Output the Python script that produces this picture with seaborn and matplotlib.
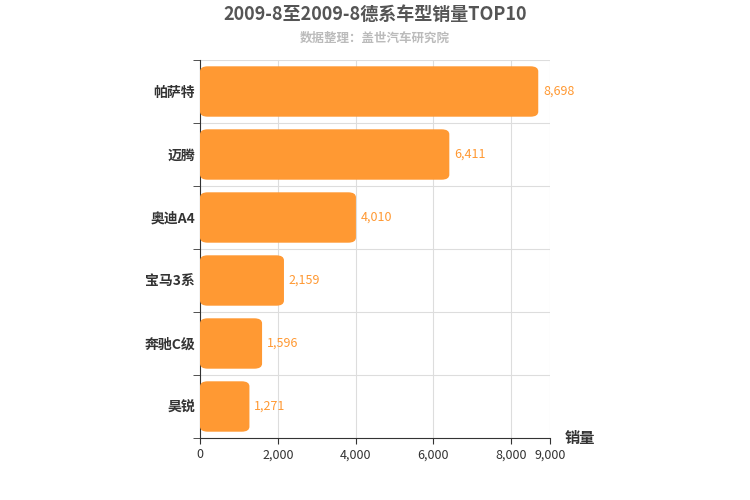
import matplotlib
matplotlib.use("Agg")
import matplotlib.pyplot as plt
import seaborn as sns
import pandas as pd
from matplotlib.patches import FancyBboxPatch

plt.rcParams["font.family"] = "Noto Sans CJK SC"

models = ["帕萨特", "迈腾", "奥迪A4", "宝马3系", "奔驰C级", "昊锐"]
sales = [8698, 6411, 4010, 2159, 1596, 1271]
xticks = [0, 2000, 4000, 6000, 8000, 9000]

df = pd.DataFrame({"model": models, "sales": sales})
fig = plt.figure(figsize=(7.5, 5), dpi=100)
ax = fig.add_axes([200/750, 1-438/500, 350/750, 378/500])
sns.barplot(data=df, y="model", x="sales", color="#FF9933", width=0.8, ax=ax, zorder=3)

for p in list(ax.patches):
    x0, y0, w, h = p.get_x(), p.get_y(), p.get_width(), p.get_height()
    fb = FancyBboxPatch((x0, y0), w, h, boxstyle="round,pad=0,rounding_size=0.08",
                        mutation_aspect=1/ (9000/6) * 1, facecolor="#FF9933", edgecolor="none", zorder=3)
    fb.set_boxstyle("round", pad=0, rounding_size=200)
    fb.set_mutation_aspect(0.08/200)
    p.remove()
    ax.add_patch(fb)
    ax.text(x0 + w + 120, y0 + h/2, f"{int(w):,}", va="center", ha="left",
            color="#FF9933", fontsize=9, zorder=4)

ax.set_xlim(0, 9000)
ax.set_ylim(5.5, -0.5)
ax.set_xticks(xticks)
ax.set_xticklabels([f"{v:,}" for v in xticks], fontsize=9, color="#333333")
ax.set_yticks(range(len(models)))
ax.set_yticklabels(models, fontsize=10, fontweight="bold", color="#333333")
ax.set_xlabel(""); ax.set_ylabel("")
for v in xticks[1:]:
    ax.axvline(v, color="#dddddd", lw=0.8, zorder=0)
for yv in [-0.5, 0.5, 1.5, 2.5, 3.5, 4.5]:
    ax.axhline(yv, color="#dddddd", lw=0.8, zorder=0)
for s in ["top", "right"]:
    ax.spines[s].set_visible(False)
ax.spines["left"].set_color("#333333")
ax.spines["bottom"].set_color("#333333")
ax.tick_params(axis="y", length=5, color="#333333")
ax.tick_params(axis="x", length=4, color="#333333")
ax.set_yticks([-0.5, 0.5, 1.5, 2.5, 3.5, 4.5, 5.5], minor=True)
ax.tick_params(axis="y", which="minor", length=5, color="#333333")
ax.tick_params(axis="y", which="major", length=0)

fig.text(580/750, 1-438/500, "销量", fontsize=11, fontweight="bold", color="#333333", ha="center", va="center")
fig.text(0.5, 1-14/500, "2009-8至2009-8德系车型销量TOP10", fontsize=13, fontweight="bold",
         color="#555555", ha="center", va="center")
fig.text(0.5, 1-38/500, "数据整理：盖世汽车研究院", fontsize=9, fontweight="bold",
         color="#bbbbbb", ha="center", va="center")
fig.savefig("out.png")
